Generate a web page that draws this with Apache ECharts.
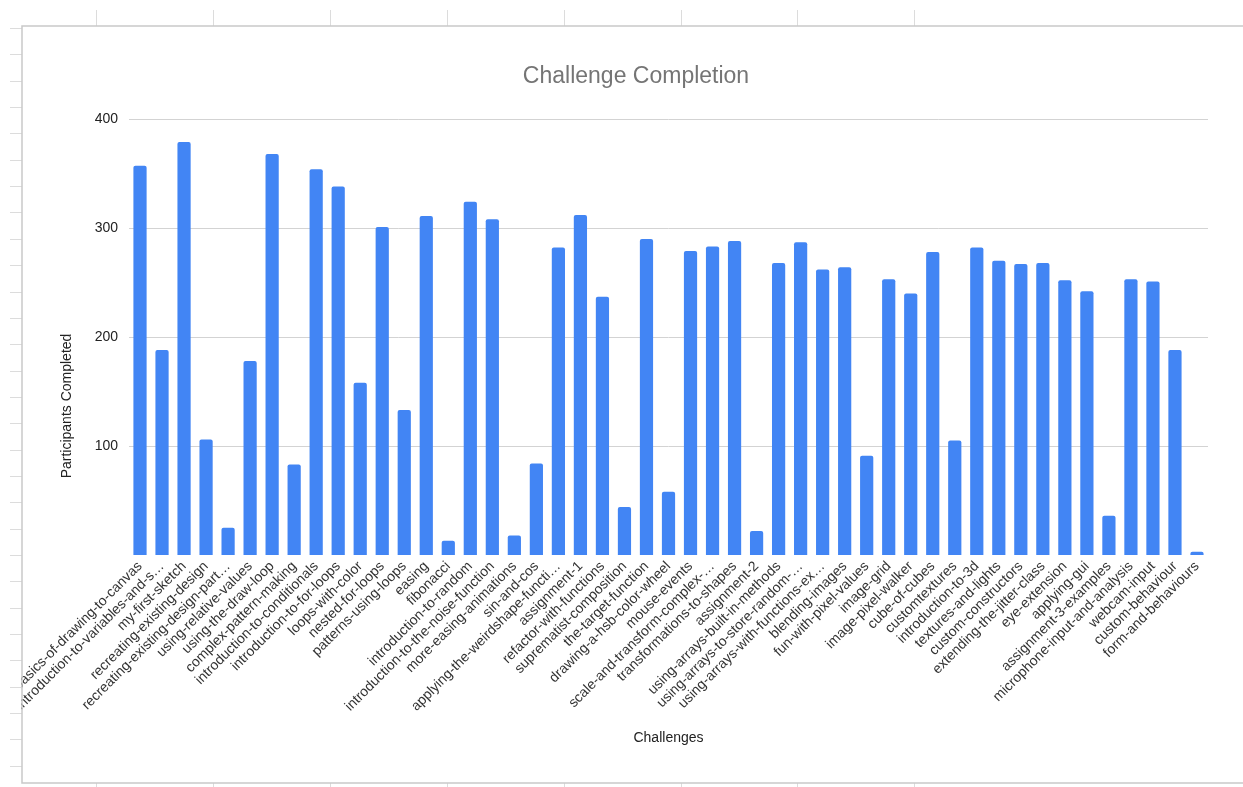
<!DOCTYPE html>
<html>
<head>
<meta charset="utf-8">
<title>Challenge Completion</title>
<script src="https://cdn.jsdelivr.net/npm/echarts@6/dist/echarts.min.js"></script>
<style>
  html, body { margin: 0; padding: 0; background: #ffffff; }
  #chart { width: 1243px; height: 787px; }
</style>
</head>
<body>
<div id="chart"></div>
<script>
// Challenge names, in course order
const challenges = [
  'basics-of-drawing-to-canvas',
  'introduction-to-variables-and-s…',
  'my-first-sketch',
  'recreating-existing-design',
  'recreating-existing-design-part…',
  'using-relative-values',
  'using-the-draw-loop',
  'complex-pattern-making',
  'introduction-to-conditionals',
  'introduction-to-for-loops',
  'loops-with-color',
  'nested-for-loops',
  'patterns-using-loops',
  'easing',
  'fibonacci',
  'introduction-to-random',
  'introduction-to-the-noise-function',
  'more-easing-animations',
  'sin-and-cos',
  'applying-the-weirdshape-functi…',
  'assignment-1',
  'refactor-with-functions',
  'suprematist-composition',
  'the-target-function',
  'drawing-a-hsb-color-wheel',
  'mouse-events',
  'scale-and-transform-complex-…',
  'transformations-to-shapes',
  'assignment-2',
  'using-arrays-built-in-methods',
  'using-arrays-to-store-random-…',
  'using-arrays-with-functions-ex…',
  'blending-images',
  'fun-with-pixel-values',
  'image-grid',
  'image-pixel-walker',
  'cube-of-cubes',
  'customtextures',
  'introduction-to-3d',
  'textures-and-lights',
  'custom-constructors',
  'extending-the-jitter-class',
  'eye-extension',
  'applying-gui',
  'assignment-3-examples',
  'microphone-input-and-analysis',
  'webcam-input',
  'custom-behaviour',
  'form-and-behaviours'
];

// Number of participants who completed each challenge
const participantsCompleted = [
  357, 188, 379, 106, 25, 178, 368, 83, 354, 338,
  158, 301, 133, 311, 13, 324, 308, 18, 84, 282,
  312, 237, 44, 290, 58, 279, 283, 288, 22, 268,
  287, 262, 264, 91, 253, 240, 278, 105, 282, 270,
  267, 268, 252, 242, 36, 253, 251, 188, 3
];

// Value axis ticks
const yTicks = [0, 100, 200, 300, 400];

const FONT = 'Arial, "Liberation Sans", Helvetica, sans-serif';

// Spreadsheet margin outside the embedded chart: a white strip that clips
// overflowing labels, plus the cell lines drawn on top of it
const sheetLines = [{
  type: 'rect',
  silent: true,
  z: 100,
  shape: { x: 0, y: 0, width: 21, height: 787 },
  style: { fill: '#ffffff' }
}];
const lineStyle = { stroke: '#dcdcdc', lineWidth: 1 };
for (let i = 0; i < 8; i++) {
  const x = Math.round(96 + i * 116.9) + 0.5;
  sheetLines.push({ type: 'line', silent: true, z: 101, shape: { x1: x, y1: 10, x2: x, y2: 26 }, style: lineStyle });
  sheetLines.push({ type: 'line', silent: true, z: 101, shape: { x1: x, y1: 783, x2: x, y2: 787 }, style: lineStyle });
}
for (let y = 28; y < 783; y += 26.35) {
  const yy = Math.round(y) + 0.5;
  sheetLines.push({ type: 'line', silent: true, z: 101, shape: { x1: 10, y1: yy, x2: 22, y2: yy }, style: lineStyle });
}

const chart = echarts.init(document.getElementById('chart'), null, { renderer: 'canvas' });

chart.setOption({
  animation: false,
  backgroundColor: '#ffffff',
  textStyle: { fontFamily: FONT },
  title: {
    text: 'Challenge Completion',
    left: 631,
    top: 72,
    textAlign: 'center',
    textVerticalAlign: 'middle',
    textStyle: { color: '#757575', fontSize: 23, fontWeight: 'normal', fontFamily: FONT }
  },
  graphic: sheetLines.concat([
    {
      type: 'rect',
      silent: true,
      z: 102,
      shape: { x: 22, y: 26, width: 1300, height: 757 },
      style: { fill: 'none', stroke: '#c9c9c9', lineWidth: 1.5 }
    },
    {
      type: 'text',
      silent: true,
      x: 67,
      y: 406,
      rotation: Math.PI / 2,
      style: {
        text: 'Participants Completed',
        fill: '#222222',
        font: '14px ' + FONT,
        textAlign: 'center',
        textVerticalAlign: 'middle'
      }
    }
  ]),
  grid: { left: 129, right: 35, top: 119, bottom: 232, containLabel: false },
  xAxis: {
    type: 'category',
    data: challenges,
    name: 'Challenges',
    nameLocation: 'middle',
    nameGap: 176,
    nameTextStyle: { color: '#222222', fontSize: 14, fontFamily: FONT },
    axisLine: { show: false },
    axisTick: { show: false },
    axisLabel: {
      interval: 0,
      rotate: 45,
      margin: 9,
      color: '#333333',
      fontSize: 14,
      fontFamily: FONT
    }
  },
  yAxis: {
    type: 'value',
    min: yTicks[0],
    max: yTicks[yTicks.length - 1],
    interval: yTicks[1] - yTicks[0],
    axisLine: { show: false },
    axisTick: { show: false },
    axisLabel: {
      showMinLabel: false,
      margin: 11,
      color: '#222222',
      fontSize: 14,
      fontFamily: FONT
    },
    splitLine: {
      lineStyle: { color: ['transparent', '#d3d3d3', '#d3d3d3', '#d3d3d3', '#d3d3d3'], width: 1 }
    }
  },
  series: [{
    type: 'bar',
    name: 'Participants Completed',
    data: participantsCompleted,
    barWidth: '60%',
    itemStyle: { color: '#4285F4', borderRadius: [2, 2, 0, 0] }
  }]
});
</script>
</body>
</html>
